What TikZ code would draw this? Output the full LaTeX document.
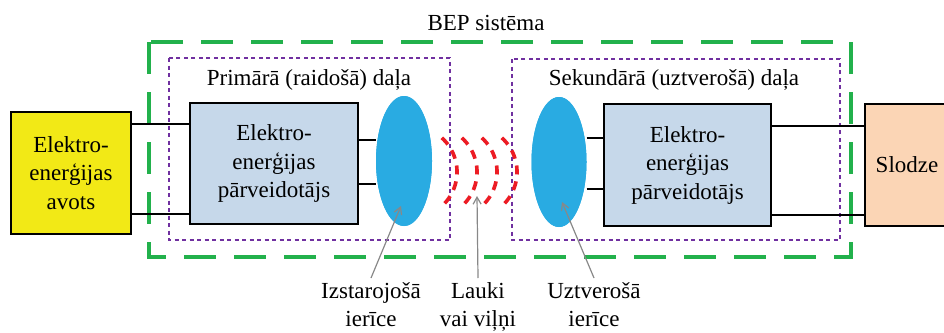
\documentclass[tikz,border=0pt]{standalone}
\usepackage{fontspec}
\setmainfont{Liberation Serif}
\usetikzlibrary{shapes.geometric,arrows.meta}

\definecolor{srcyellow}{RGB}{242,233,22}
\definecolor{convblue}{RGB}{198,216,234}
\definecolor{coilblue}{RGB}{41,171,226}
\definecolor{loadpeach}{RGB}{251,213,181}
\definecolor{bepgreen}{RGB}{34,177,76}
\definecolor{partpurple}{RGB}{112,48,160}
\definecolor{wavered}{RGB}{236,28,36}
\definecolor{arrowgray}{RGB}{136,136,136}

\begin{document}
\begin{tikzpicture}[x=1pt,y=-1pt,
  txt/.style={font=\fontsize{23}{28.5}\selectfont},
  box/.style={draw,line width=2.2pt,align=center,inner sep=0pt,txt},
  coil/.style={ellipse,fill=coilblue,minimum width=56pt,minimum height=130pt,inner sep=0pt},
  wire/.style={line width=1.6pt},
  pointer/.style={arrowgray,line width=1.2pt,-{Straight Barb[length=7pt,width=8pt]}},
  bepframe/.style={bepgreen,line width=4pt,dash pattern=on 32pt off 18pt},
  partframe/.style={partpurple,line width=2.8pt,dash pattern=on 4pt off 3.5pt},
  wave/.style={wavered,line width=3.6pt,dash pattern=on 9pt off 7pt}]
\useasboundingbox (0,0) rectangle (944,332);

% frames
\draw[bepframe] (149,42) rectangle (851,257);
\draw[partframe] (169,58) rectangle (450,240);
\draw[partframe] (512,59) rectangle (840,240);
\node[txt,anchor=base] (bep) at (486,30) {BEP sistēma};
\node[txt,anchor=base] (prim) at (309,85) {Primārā (raidošā) daļa};
\node[txt,anchor=base] (sek) at (674,85) {Sekundārā (uztverošā) daļa};

% blocks
\node[box,fill=srcyellow,minimum width=120pt,minimum height=122pt] (src) at (71,173)
  {Elektro-\\enerģijas\\avots};
\node[box,fill=convblue,minimum width=168pt,minimum height=121pt] (convA) at (274,163.5)
  {Elektro-\\enerģijas\\pārveidotājs};
\node[coil] (antA) at (404,161) {};
\node[coil,minimum width=55pt] (antB) at (559,162) {};
\node[box,fill=convblue,minimum width=167pt,minimum height=122pt] (convB) at (687.5,165)
  {Elektro-\\enerģijas\\pārveidotājs};
\node[box,fill=loadpeach,minimum width=84pt,minimum height=122pt] (load) at (907,165) {Slodze};

% wires
\draw[wire] (src.east |- 0,124) -- (convA.west |- 0,124);
\draw[wire] (src.east |- 0,214) -- (convA.west |- 0,214);
\draw[wire] (convA.east |- 0,140) -- (antA.west |- 0,140);
\draw[wire] (convA.east |- 0,184) -- (antA.west |- 0,184);
\draw[wire] (antB.east |- 0,138) -- (convB.west |- 0,138);
\draw[wire] (antB.east |- 0,189) -- (convB.west |- 0,189);
\draw[wire] (convB.east |- 0,126) -- (load.west |- 0,126);
\draw[wire] (convB.east |- 0,215) -- (load.west |- 0,215);
\node[coil] at (antA) {};
\node[coil,minimum width=55pt] at (antB) {};

% field
\foreach \cx in {411,431,451,471}
  \draw[wave] (\cx+30.8,137.8) arc[start angle=-48,end angle=48,radius=46];
\coordinate (field) at (477,196);

% captions
\node[txt,align=center,anchor=north,inner sep=4pt] (lblA) at (371,278) {Izstarojošā\\ierīce};
\node[txt,align=center,anchor=north,inner sep=4pt] (lblF) at (478,278) {Lauki\\vai viļņi};
\node[txt,align=center,anchor=north,inner sep=4pt] (lblB) at (594,278) {Uztverošā\\ierīce};
\draw[pointer] (lblA.north) -- ([xshift=-3pt,yshift=-45pt]antA.center);
\draw[pointer] (lblF.north) -- (field);
\draw[pointer] (lblB.north) -- ([xshift=3pt,yshift=-40pt]antB.center);
\end{tikzpicture}
\end{document}
